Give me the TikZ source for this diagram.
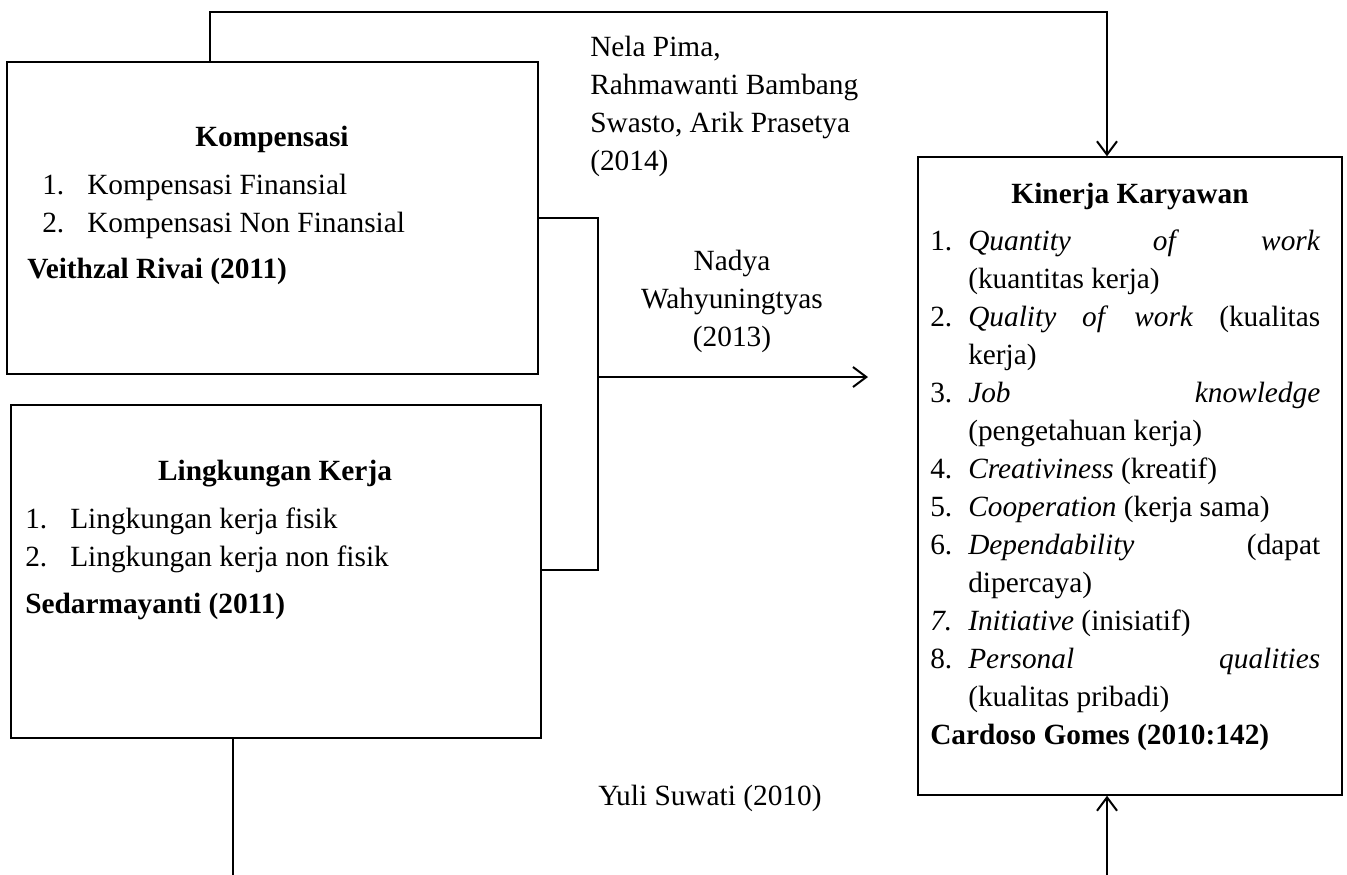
\documentclass[tikz,border=0pt]{standalone}
\usepackage{fontspec}
\setmainfont{Liberation Serif}
\usetikzlibrary{arrows.meta,fit}
\begin{document}
\begin{tikzpicture}[x=0.75pt,y=-0.75pt,
 box/.style={draw, line width=1.1pt, inner sep=0pt},
 txt/.style={anchor=base west, inner sep=0pt, font=\fontsize{22}{28.5}\selectfont},
 ctxt/.style={anchor=base, inner sep=0pt, font=\fontsize{22}{28.5}\selectfont},
 conn/.style={line width=1.5pt},
 arr/.style={conn, -{Straight Barb[length=10pt,width=15pt,line width=1.5pt]}}]
\useasboundingbox (0,0) rectangle (1347,875);

% boxes
\node[box, fit={(7,62)(538,374)}] (K) {};
\node[box, fit={(11,405)(541,738)}] (L) {};
\node[box, fit={(918,157)(1342,795)}] (R) {};

% connectors
\coordinate (t1) at (210,12);
\coordinate (t2) at (1107,12);
\draw[arr] (K.north -| t1) -- (t1) -- (t2) -- (R.north -| t2);

\coordinate (m1) at (598,218);
\coordinate (m2) at (598,570);
\coordinate (ae) at (868,377);
\draw[conn] (K.east |- m1) -- (m1) -- (m2) -- (L.east |- m2);
\draw[arr] (m1 |- ae) -- (ae);

\coordinate (b1) at (233,875);
\coordinate (b2) at (1107,875);
\draw[conn] (L.south -| b1) -- (b1);
\draw[arr] (b2) -- (R.south -| b2);

% Kompensasi
\node[ctxt] (k0) at (272,146) {\textbf{Kompensasi}};
\node[txt] (k1n) at (42,194) {1.};
\node[txt] (k1) at (87,194) {Kompensasi Finansial};
\node[txt] (k2n) at (42,232) {2.};
\node[txt] (k2) at (87,232) {Kompensasi Non Finansial};
\node[txt] (k3) at (27,278) {\textbf{Veithzal Rivai (2011)}};

% Lingkungan
\node[ctxt] (l0) at (275,480) {\textbf{Lingkungan Kerja}};
\node[txt] (l1n) at (25,528) {1.};
\node[txt] (l1) at (70,528) {Lingkungan kerja fisik};
\node[txt] (l2n) at (25,566) {2.};
\node[txt] (l2) at (70,566) {Lingkungan kerja non fisik};
\node[txt] (l3) at (25,613) {\textbf{Sedarmayanti (2011)}};

% Kinerja
\node[ctxt] (r0) at (1130,203) {\textbf{Kinerja Karyawan}};
\node[txt] (r1n) at (930,250) {1.};
\node[txt] (r1) at (968,250) {\makebox[264pt][s]{\textit{Quantity} \textit{of} \textit{work}}};
\node[txt] (r1b) at (968,288) {(kuantitas kerja)};
\node[txt] (r2n) at (930,326) {2.};
\node[txt] (r2) at (968,326) {\makebox[264pt][s]{\textit{Quality} \textit{of} \textit{work} (kualitas}};
\node[txt] (r2b) at (968,364) {kerja)};
\node[txt] (r3n) at (930,402) {3.};
\node[txt] (r3) at (968,402) {\makebox[264pt][s]{\textit{Job} \textit{knowledge}}};
\node[txt] (r3b) at (968,440) {(pengetahuan kerja)};
\node[txt] (r4n) at (930,478) {4.};
\node[txt] (r4) at (968,478) {\textit{Creativiness} (kreatif)};
\node[txt] (r5n) at (930,516) {5.};
\node[txt] (r5) at (968,516) {\textit{Cooperation} (kerja sama)};
\node[txt] (r6n) at (930,554) {6.};
\node[txt] (r6) at (968,554) {\makebox[264pt][s]{\textit{Dependability} (dapat}};
\node[txt] (r6b) at (968,592) {dipercaya)};
\node[txt] (r7n) at (930,630) {\textit{7.}};
\node[txt] (r7) at (968,630) {\textit{Initiative} (inisiatif)};
\node[txt] (r8n) at (930,668) {8.};
\node[txt] (r8) at (968,668) {\makebox[264pt][s]{\textit{Personal} \textit{qualities}}};
\node[txt] (r8b) at (968,706) {(kualitas pribadi)};
\node[txt] (r9) at (930,744) {\textbf{Cardoso Gomes (2010:142)}};

% labels
\node[txt] (n1) at (590,56) {Nela Pima,};
\node[txt] (n2) at (590,94) {Rahmawanti Bambang};
\node[txt] (n3) at (590,132) {Swasto, Arik Prasetya};
\node[txt] (n4) at (590,170) {(2014)};
\node[ctxt] (d1) at (732,270) {Nadya};
\node[ctxt] (d2) at (732,308) {Wahyuningtyas};
\node[ctxt] (d3) at (732,346) {(2013)};
\node[txt] (y1) at (598,805) {Yuli Suwati (2010)};
\end{tikzpicture}
\end{document}
